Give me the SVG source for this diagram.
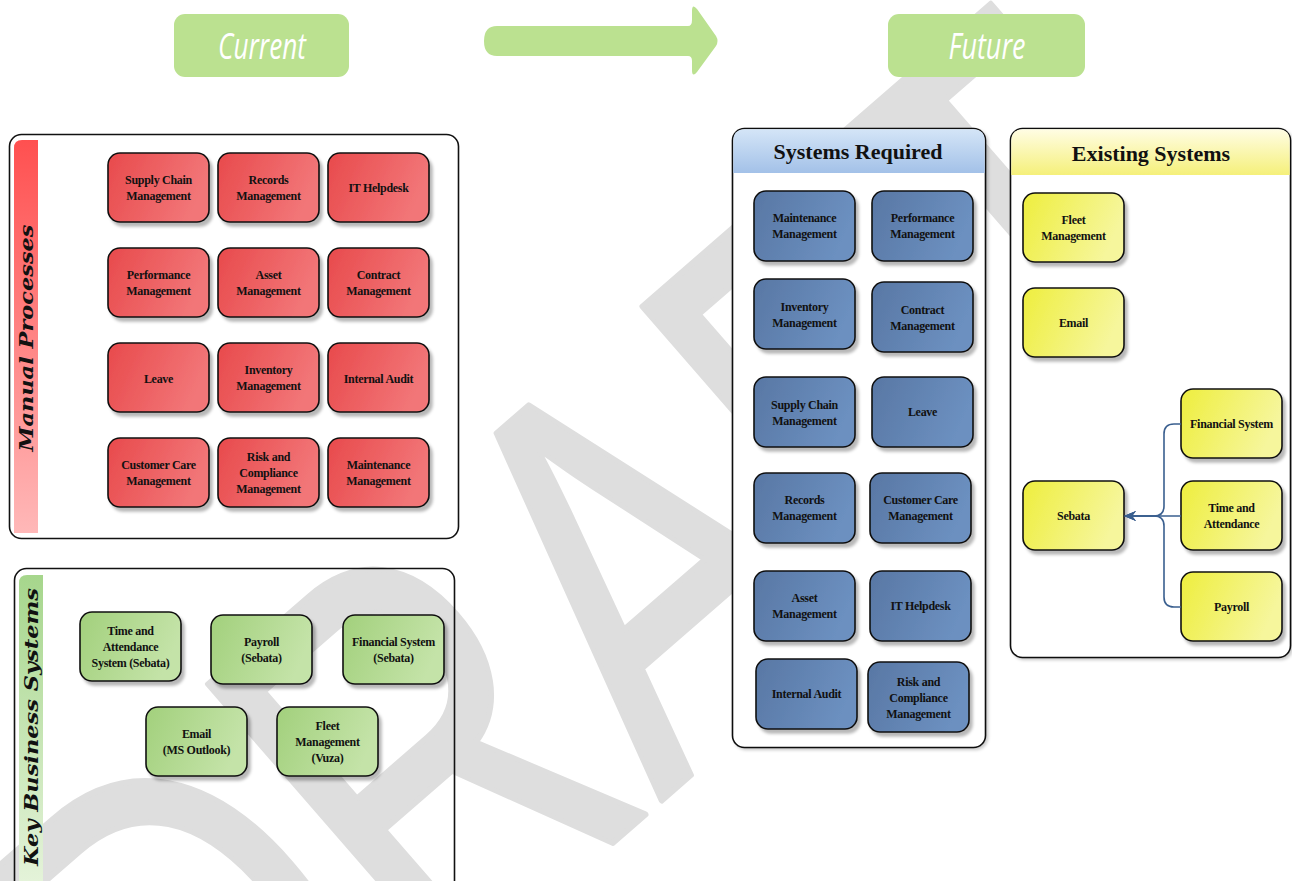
<svg xmlns="http://www.w3.org/2000/svg" width="1292" height="881" viewBox="0 0 1292 881">
<defs>
<style>
.nd{stroke:#111;stroke-width:1.6;filter:url(#sh)}
.t{font-family:"Liberation Serif",serif;font-weight:bold;font-size:12px;fill:#111;text-anchor:middle;dominant-baseline:central;letter-spacing:-0.3px}
.pt{font-family:"Liberation Serif",serif;font-weight:bold;font-size:22px;fill:#111;text-anchor:middle;dominant-baseline:central}
.side{font-family:"DejaVu Serif",serif;font-weight:bold;font-style:italic;font-size:19px;fill:#111;text-anchor:middle;dominant-baseline:central}
.pan{fill:#fff;stroke:#111;stroke-width:1.6}
.hd{font-family:"Open Sans",sans-serif;font-style:italic;font-size:36px;fill:#fff;text-anchor:middle;dominant-baseline:central}
.cn{fill:none;stroke:#3a5f8f;stroke-width:1.6}
</style>
<filter id="sh" x="-10%" y="-10%" width="130%" height="130%"><feDropShadow dx="3" dy="4" stdDeviation="1.8" flood-color="#000" flood-opacity="0.28"/></filter>
<filter id="psh" x="-5%" y="-5%" width="110%" height="110%"><feDropShadow dx="2" dy="2" stdDeviation="1.5" flood-color="#000" flood-opacity="0.2"/></filter>
<linearGradient id="gR" x1="0" y1="0" x2="1" y2="0.3"><stop offset="0" stop-color="#e84a4c"/><stop offset="1" stop-color="#f27678"/></linearGradient>
<linearGradient id="gG" x1="0" y1="0" x2="1" y2="0.3"><stop offset="0" stop-color="#a2d07c"/><stop offset="1" stop-color="#c4e3a8"/></linearGradient>
<linearGradient id="gB" x1="0" y1="0" x2="1" y2="0.3"><stop offset="0" stop-color="#5877a4"/><stop offset="1" stop-color="#6c90c0"/></linearGradient>
<linearGradient id="gY" x1="0" y1="0" x2="1" y2="0.3"><stop offset="0" stop-color="#eeee3e"/><stop offset="1" stop-color="#f6f69c"/></linearGradient>
<linearGradient id="barR" x1="0" y1="0" x2="0" y2="1"><stop offset="0" stop-color="#ff5050"/><stop offset="1" stop-color="#ffb8b8"/></linearGradient>
<linearGradient id="barG" x1="0" y1="0" x2="0" y2="1"><stop offset="0" stop-color="#a6d68c"/><stop offset="1" stop-color="#e4f3d9"/></linearGradient>
<linearGradient id="hB" x1="0" y1="0" x2="0" y2="1"><stop offset="0" stop-color="#d4e5f7"/><stop offset="1" stop-color="#a3c1e8"/></linearGradient>
<linearGradient id="hY" x1="0" y1="0" x2="0" y2="1"><stop offset="0" stop-color="#fffde4"/><stop offset="1" stop-color="#f5f07a"/></linearGradient>
<marker id="ah" viewBox="0 0 12 10" refX="11" refY="5" markerWidth="12" markerHeight="10" markerUnits="userSpaceOnUse" orient="auto"><path d="M12,5 L0,0 L4,5 L0,10 Z" fill="#3a5f8f"/></marker>
</defs>

<rect width="1292" height="881" fill="#fff"/>

<g id="watermark">
<text transform="translate(730,741) rotate(-41) scale(0.74,1)" text-anchor="middle" font-family="Liberation Sans, sans-serif" font-size="560" fill="#dedede" stroke="#dedede" stroke-width="6" stroke-linejoin="round">DRAFT</text>
</g>

<g id="header-current">
<rect x="174" y="14" width="175" height="63" rx="11" fill="#bbe190"/>
<text class="hd" x="262" y="45" textLength="88" lengthAdjust="spacingAndGlyphs">Current</text>
</g>
<g id="header-arrow">
<path d="M497,26 H688 Q692,26 692,20 V11 Q692,3 697,9 L716,36 Q719,41 716,46 L697,72 Q692,78 692,70 V61 Q692,56 688,56 H497 Q484,56 484,41 Q484,26 497,26 Z" fill="#bbe190"/>
</g>
<g id="header-future">
<rect x="888" y="14" width="197" height="63" rx="11" fill="#bbe190"/>
<text class="hd" x="987" y="45" textLength="77" lengthAdjust="spacingAndGlyphs">Future</text>
</g>

<g id="panel-manual">
<rect class="pan" x="9.5" y="134.5" width="449" height="404" rx="12"/>
<path d="M14,533 V148 Q14,140 22,140 H38 V533 Z" fill="url(#barR)"/>
<text class="side" transform="translate(26,338) rotate(-90)" textLength="227" lengthAdjust="spacingAndGlyphs">Manual Processes</text>
</g>

<g id="panel-kbs">
<rect x="14.5" y="568.5" width="440" height="330" rx="12" fill="none" stroke="#111" stroke-width="1.6"/>
<path d="M19,881 V583 Q19,575 27,575 H43 V881 Z" fill="url(#barG)"/>
<text class="side" transform="translate(31,727) rotate(-90)" textLength="278" lengthAdjust="spacingAndGlyphs">Key Business Systems</text>
</g>

<g id="panel-required">
<rect class="pan" x="732.5" y="128.5" width="253" height="619" rx="12" filter="url(#psh)"/>
<path d="M733.3,173 V141 Q733.3,129.3 745,129.3 H973 Q984.7,129.3 984.7,141 V173 Z" fill="url(#hB)"/>
<text class="pt" x="858" y="151">Systems Required</text>
</g>

<g id="panel-existing">
<rect class="pan" x="1010.5" y="128.5" width="280" height="529" rx="12" filter="url(#psh)"/>
<path d="M1011.3,175 V141 Q1011.3,129.3 1023,129.3 H1278 Q1289.7,129.3 1289.7,141 V175 Z" fill="url(#hY)"/>
<text class="pt" x="1151" y="153">Existing Systems</text>
</g>

<!-- Manual process nodes -->
<g id="m-supply"><rect class="nd" x="108" y="153" width="101" height="69" rx="12" fill="url(#gR)"/><text class="t" x="158.5" y="180">Supply Chain</text><text class="t" x="158.5" y="196">Management</text></g>
<g id="m-records"><rect class="nd" x="218" y="153" width="101" height="69" rx="12" fill="url(#gR)"/><text class="t" x="268.5" y="180">Records</text><text class="t" x="268.5" y="196">Management</text></g>
<g id="m-ithelp"><rect class="nd" x="328" y="153" width="101" height="69" rx="12" fill="url(#gR)"/><text class="t" x="378.5" y="187.5">IT Helpdesk</text></g>
<g id="m-perf"><rect class="nd" x="108" y="248" width="101" height="69" rx="12" fill="url(#gR)"/><text class="t" x="158.5" y="275">Performance</text><text class="t" x="158.5" y="291">Management</text></g>
<g id="m-asset"><rect class="nd" x="218" y="248" width="101" height="69" rx="12" fill="url(#gR)"/><text class="t" x="268.5" y="275">Asset</text><text class="t" x="268.5" y="291">Management</text></g>
<g id="m-contract"><rect class="nd" x="328" y="248" width="101" height="69" rx="12" fill="url(#gR)"/><text class="t" x="378.5" y="275">Contract</text><text class="t" x="378.5" y="291">Management</text></g>
<g id="m-leave"><rect class="nd" x="108" y="343" width="101" height="69" rx="12" fill="url(#gR)"/><text class="t" x="158.5" y="378.5">Leave</text></g>
<g id="m-inventory"><rect class="nd" x="218" y="343" width="101" height="69" rx="12" fill="url(#gR)"/><text class="t" x="268.5" y="370">Inventory</text><text class="t" x="268.5" y="386">Management</text></g>
<g id="m-audit"><rect class="nd" x="328" y="343" width="101" height="69" rx="12" fill="url(#gR)"/><text class="t" x="378.5" y="378.5">Internal Audit</text></g>
<g id="m-customer"><rect class="nd" x="108" y="438" width="101" height="69" rx="12" fill="url(#gR)"/><text class="t" x="158.5" y="465">Customer Care</text><text class="t" x="158.5" y="481">Management</text></g>
<g id="m-risk"><rect class="nd" x="218" y="438" width="101" height="69" rx="12" fill="url(#gR)"/><text class="t" x="268.5" y="457">Risk and</text><text class="t" x="268.5" y="473">Compliance</text><text class="t" x="268.5" y="489">Management</text></g>
<g id="m-maint"><rect class="nd" x="328" y="438" width="101" height="69" rx="12" fill="url(#gR)"/><text class="t" x="378.5" y="465">Maintenance</text><text class="t" x="378.5" y="481">Management</text></g>

<!-- Key business systems -->
<g id="k-time"><rect class="nd" x="80" y="612" width="101" height="69" rx="12" fill="url(#gG)"/><text class="t" x="130.5" y="631">Time and</text><text class="t" x="130.5" y="647">Attendance</text><text class="t" x="130.5" y="663">System (Sebata)</text></g>
<g id="k-payroll"><rect class="nd" x="211" y="615" width="101" height="69" rx="12" fill="url(#gG)"/><text class="t" x="261.5" y="642">Payroll</text><text class="t" x="261.5" y="658">(Sebata)</text></g>
<g id="k-fin"><rect class="nd" x="343" y="615" width="101" height="69" rx="12" fill="url(#gG)"/><text class="t" x="393.5" y="642">Financial System</text><text class="t" x="393.5" y="658">(Sebata)</text></g>
<g id="k-email"><rect class="nd" x="146" y="707" width="101" height="69" rx="12" fill="url(#gG)"/><text class="t" x="196.5" y="734">Email</text><text class="t" x="196.5" y="750">(MS Outlook)</text></g>
<g id="k-fleet"><rect class="nd" x="277" y="707" width="101" height="69" rx="12" fill="url(#gG)"/><text class="t" x="327.5" y="726">Fleet</text><text class="t" x="327.5" y="742">Management</text><text class="t" x="327.5" y="758">(Vuza)</text></g>

<!-- Systems required -->
<g id="r-maint"><rect class="nd" x="754" y="191" width="101" height="70" rx="12" fill="url(#gB)"/><text class="t" x="804.5" y="218">Maintenance</text><text class="t" x="804.5" y="234">Management</text></g>
<g id="r-perf"><rect class="nd" x="872" y="191" width="101" height="70" rx="12" fill="url(#gB)"/><text class="t" x="922.5" y="218">Performance</text><text class="t" x="922.5" y="234">Management</text></g>
<g id="r-inventory"><rect class="nd" x="754" y="279" width="101" height="70" rx="12" fill="url(#gB)"/><text class="t" x="804.5" y="307">Inventory</text><text class="t" x="804.5" y="323">Management</text></g>
<g id="r-contract"><rect class="nd" x="872" y="282" width="101" height="70" rx="12" fill="url(#gB)"/><text class="t" x="922.5" y="310">Contract</text><text class="t" x="922.5" y="326">Management</text></g>
<g id="r-supply"><rect class="nd" x="754" y="377" width="101" height="70" rx="12" fill="url(#gB)"/><text class="t" x="804.5" y="405">Supply Chain</text><text class="t" x="804.5" y="421">Management</text></g>
<g id="r-leave"><rect class="nd" x="872" y="377" width="101" height="70" rx="12" fill="url(#gB)"/><text class="t" x="922.5" y="412">Leave</text></g>
<g id="r-records"><rect class="nd" x="754" y="473" width="101" height="70" rx="12" fill="url(#gB)"/><text class="t" x="804.5" y="500">Records</text><text class="t" x="804.5" y="516">Management</text></g>
<g id="r-customer"><rect class="nd" x="870" y="473" width="101" height="70" rx="12" fill="url(#gB)"/><text class="t" x="920.5" y="500">Customer Care</text><text class="t" x="920.5" y="516">Management</text></g>
<g id="r-asset"><rect class="nd" x="754" y="571" width="101" height="70" rx="12" fill="url(#gB)"/><text class="t" x="804.5" y="598">Asset</text><text class="t" x="804.5" y="614">Management</text></g>
<g id="r-ithelp"><rect class="nd" x="870" y="571" width="101" height="70" rx="12" fill="url(#gB)"/><text class="t" x="920.5" y="606">IT Helpdesk</text></g>
<g id="r-audit"><rect class="nd" x="756" y="659" width="101" height="70" rx="12" fill="url(#gB)"/><text class="t" x="806.5" y="694">Internal Audit</text></g>
<g id="r-risk"><rect class="nd" x="868" y="662" width="101" height="70" rx="12" fill="url(#gB)"/><text class="t" x="918.5" y="682">Risk and</text><text class="t" x="918.5" y="698">Compliance</text><text class="t" x="918.5" y="714">Management</text></g>

<!-- Existing systems -->
<g id="e-fleet"><rect class="nd" x="1023" y="193" width="101" height="69" rx="12" fill="url(#gY)"/><text class="t" x="1073.5" y="220">Fleet</text><text class="t" x="1073.5" y="236">Management</text></g>
<g id="e-email"><rect class="nd" x="1023" y="288" width="101" height="69" rx="12" fill="url(#gY)"/><text class="t" x="1073.5" y="322.5">Email</text></g>
<g id="e-sebata"><rect class="nd" x="1023" y="481" width="101" height="69" rx="12" fill="url(#gY)"/><text class="t" x="1073.5" y="515.5">Sebata</text></g>
<g id="e-fin"><rect class="nd" x="1181" y="389" width="101" height="69" rx="12" fill="url(#gY)"/><text class="t" x="1231.5" y="423.5">Financial System</text></g>
<g id="e-time"><rect class="nd" x="1181" y="481" width="101" height="69" rx="12" fill="url(#gY)"/><text class="t" x="1231.5" y="508">Time and</text><text class="t" x="1231.5" y="524">Attendance</text></g>
<g id="e-payroll"><rect class="nd" x="1181" y="572" width="101" height="69" rx="12" fill="url(#gY)"/><text class="t" x="1231.5" y="606.5">Payroll</text></g>

<g id="connectors">
<path class="cn" d="M1181,424 H1174 Q1164,424 1164,434 V506 Q1164,516 1154,516 H1125" marker-end="url(#ah)"/>
<path class="cn" d="M1181,516 H1125" marker-end="url(#ah)"/>
<path class="cn" d="M1181,607 H1174 Q1164,607 1164,597 V526 Q1164,516 1154,516 H1125" marker-end="url(#ah)"/>
</g>
</svg>
